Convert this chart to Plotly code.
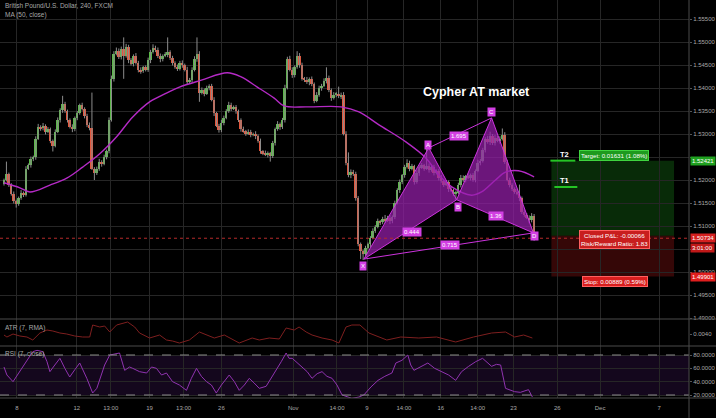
import numpy as np
import plotly.graph_objects as go

# ---------------- data ----------------
first_open = 1.5192
closes = [
    1.5200, 1.5212, 1.5190, 1.5170, 1.5155, 1.5148, 1.5160, 1.5172, 1.5168, 1.5225,
    1.5232, 1.5245, 1.5250, 1.5290, 1.5315, 1.5312, 1.5318, 1.5305, 1.5310, 1.5285,
    1.5275, 1.5305, 1.5330, 1.5352, 1.5365, 1.5350, 1.5330, 1.5315, 1.5310, 1.5335,
    1.5345, 1.5362, 1.5355, 1.5340, 1.5320, 1.5312, 1.5225, 1.5215, 1.5225, 1.5240,
    1.5235, 1.5250, 1.5262, 1.5330, 1.5420, 1.5475, 1.5480, 1.5468, 1.5485, 1.5470,
    1.5490, 1.5460, 1.5452, 1.5470, 1.5455, 1.5440, 1.5436, 1.5445, 1.5440, 1.5460,
    1.5478, 1.5488, 1.5482, 1.5470, 1.5462, 1.5470, 1.5472, 1.5478, 1.5465, 1.5455,
    1.5445, 1.5442, 1.5455, 1.5450, 1.5440, 1.5412, 1.5418, 1.5440, 1.5462, 1.5475,
    1.5390, 1.5395, 1.5388, 1.5400, 1.5405, 1.5375, 1.5345, 1.5318, 1.5308, 1.5325,
    1.5335, 1.5350, 1.5362, 1.5355, 1.5358, 1.5350, 1.5330, 1.5310, 1.5306, 1.5302,
    1.5305, 1.5298, 1.5300, 1.5295, 1.5285, 1.5262, 1.5258, 1.5255, 1.5258, 1.5252,
    1.5280, 1.5310, 1.5322, 1.5315, 1.5330, 1.5400, 1.5462, 1.5440, 1.5428, 1.5445,
    1.5470, 1.5450, 1.5420, 1.5418, 1.5412, 1.5420, 1.5408, 1.5372, 1.5385, 1.5400,
    1.5405, 1.5415, 1.5422, 1.5395, 1.5378, 1.5385, 1.5388, 1.5382, 1.5385, 1.5300,
    1.5237, 1.5210, 1.5218, 1.5212, 1.5160, 1.5060, 1.5045, 1.5040, 1.5052, 1.5060,
    1.5075, 1.5090, 1.5098, 1.5110, 1.5108, 1.5115, 1.5112, 1.5118, 1.5110, 1.5120,
    1.5150, 1.5178, 1.5195, 1.5210, 1.5228, 1.5238, 1.5225, 1.5230, 1.5195, 1.5215,
    1.5228, 1.5232, 1.5225, 1.5230, 1.5222, 1.5228, 1.5215, 1.5220, 1.5205, 1.5198,
    1.5190, 1.5195, 1.5180, 1.5178, 1.5170, 1.5172, 1.5190, 1.5205, 1.5200, 1.5208,
    1.5205, 1.5210, 1.5200, 1.5220, 1.5238, 1.5242, 1.5265, 1.5290, 1.5282, 1.5295,
    1.5280, 1.5292, 1.5285, 1.5290, 1.5298, 1.5240, 1.5200, 1.5190, 1.5180, 1.5175,
    1.5170, 1.5160, 1.5130, 1.5125, 1.5118, 1.5112, 1.5122, 1.5074,
]
# upper / lower shadow length beyond the body, in pips
wick_up_pips = [
    3, 28, 4, 3, 5, 2, 4, 6, 3, 5,
    4, 6, 3, 5, 7, 4, 6, 3, 5, 4,
    3, 5, 6, 4, 18, 5, 3, 4, 6, 3,
    5, 4, 6, 3, 4, 5, 78, 3, 4, 6,
    3, 5, 4, 6, 7, 5, 8, 6, 5, 25,
    6, 4, 5, 3, 6, 4, 5, 3, 4, 6,
    5, 7, 4, 6, 5, 3, 6, 32, 4, 5,
    3, 6, 4, 5, 3, 6, 4, 5, 7, 35,
    5, 6, 4, 5, 3, 4, 5, 3, 4, 6,
    5, 4, 8, 6, 4, 5, 3, 4, 6, 3,
    5, 4, 3, 6, 4, 5, 3, 6, 4, 3,
    5, 4, 6, 3, 5, 7, 6, 8, 5, 4,
    10, 6, 5, 4, 6, 3, 5, 4, 6, 5,
    4, 6, 23, 5, 4, 6, 3, 15, 5, 6,
    6, 23, 5, 4, 6, 5, 4, 3, 5, 4,
    3, 5, 4, 6, 3, 5, 9, 4, 6, 3,
    5, 4, 6, 3, 5, 7, 4, 5, 3, 6,
    4, 5, 3, 38, 6, 4, 5, 3, 4, 6,
    3, 5, 4, 6, 3, 5, 4, 6, 5, 3,
    6, 4, 5, 3, 6, 4, 5, 3, 6, 10,
    5, 6, 4, 5, 14, 6, 4, 5, 3, 4,
    5, 20, 4, 6, 3, 5, 6, 4,
]
wick_dn_pips = [
    4, 3, 5, 4, 6, 8, 4, 3, 5, 4,
    3, 5, 4, 6, 3, 5, 4, 6, 3, 5,
    13, 4, 3, 5, 6, 4, 5, 3, 6, 4,
    5, 3, 4, 6, 5, 4, 3, 15, 4, 5,
    6, 3, 5, 4, 3, 6, 4, 5, 6, 50,
    4, 6, 3, 5, 4, 6, 5, 3, 4, 5,
    6, 3, 4, 5, 6, 4, 3, 5, 4, 6,
    3, 5, 4, 6, 4, 5, 3, 6, 4, 5,
    20, 4, 6, 3, 5, 4, 6, 3, 5, 4,
    6, 3, 4, 5, 3, 6, 4, 5, 3, 6,
    4, 5, 3, 6, 4, 5, 4, 3, 6, 12,
    4, 5, 3, 6, 4, 5, 3, 4, 6, 5,
    3, 6, 4, 5, 3, 6, 4, 5, 3, 4,
    6, 3, 5, 4, 6, 3, 5, 4, 6, 3,
    5, 4, 6, 3, 5, 4, 17, 14, 5, 3,
    6, 4, 5, 3, 6, 4, 5, 3, 6, 4,
    5, 3, 6, 4, 5, 3, 6, 4, 5, 3,
    6, 4, 5, 3, 6, 4, 5, 3, 6, 4,
    5, 3, 6, 4, 5, 14, 3, 6, 4, 5,
    3, 6, 4, 5, 3, 6, 4, 5, 3, 6,
    4, 5, 3, 6, 4, 5, 3, 6, 4, 5,
    3, 6, 4, 5, 3, 6, 4, 6,
]

# MA(50, close) (bar index, price)
ma_bars = [0, 6.5, 10.6, 18.8, 25.7, 32.2, 39.2, 46.1, 52.7, 59.6, 66.5, 71.8,
           80.8, 91.4, 97.1, 103.7, 110.6, 114.7, 124.1, 138.0, 145.3, 153.5,
           164.5, 172.7, 178.0, 183.3, 191.4, 195.5, 201.2, 205.3, 210.6, 217]
ma_vals = [1.5194, 1.5183, 1.5174, 1.5189, 1.5204, 1.5228, 1.5257, 1.5294, 1.5337,
           1.5370, 1.5389, 1.5402, 1.5417, 1.5433, 1.5424, 1.5402, 1.5378, 1.5361,
           1.5359, 1.5359, 1.5348, 1.5320, 1.5283, 1.5248, 1.5211, 1.5185, 1.5167,
           1.5174, 1.5200, 1.5217, 1.5220, 1.5207]

# ATR(7, RMA)
atr_bars = [0, 1.2, 3.7, 6.5, 9.4, 11.8, 14.7, 17.6, 20.0, 22.9, 25.7, 29.0, 32.2,
            35.1, 36.3, 39.2, 41.2, 43.3, 46.1, 50.6, 53.5, 55.5, 59.6, 63.7, 66.5,
            69.0, 71.8, 75.9, 80.0, 84.1, 86.1, 90.2, 96.3, 101.6, 104.5, 108.6,
            112.7, 115.5, 118.8, 120.8, 123.7, 126.1, 130.2, 134.3, 137.1, 140.0,
            142.4, 145.7, 149.4, 156.7, 162.4, 169.8, 177.1, 184.9, 192.2, 199.6,
            205.3, 209.0, 212.7, 216.3]
atr_vals = [0.0039, 0.0037, 0.0040, 0.0038, 0.0037, 0.0034, 0.0041, 0.0044, 0.0043,
            0.0041, 0.0040, 0.0038, 0.0037, 0.0037, 0.0049, 0.0047, 0.0048, 0.0042,
            0.0049, 0.0052, 0.0047, 0.0041, 0.0036, 0.0039, 0.0034, 0.0033, 0.0031,
            0.0034, 0.0042, 0.0038, 0.0036, 0.0039, 0.0031, 0.0036, 0.0034, 0.0036,
            0.0035, 0.0046, 0.0044, 0.0047, 0.0042, 0.0039, 0.0036, 0.0034, 0.0031,
            0.0047, 0.0049, 0.0049, 0.0041, 0.0034, 0.0037, 0.0036, 0.0037, 0.0032,
            0.0037, 0.0041, 0.0042, 0.0037, 0.0039, 0.0036]

# RSI(7, close)
rsi_bars = [0, 1.2, 3.7, 6.5, 9.4, 11.8, 13.5, 15.9, 17.6, 18.8, 20.8, 22.9, 24.9,
            26.9, 29.0, 31.0, 33.9, 36.3, 38.0, 39.2, 41.2, 43.3, 45.3, 47.3, 49.4,
            51.4, 52.7, 55.5, 58.4, 60.4, 62.4, 64.5, 66.5, 69.0, 71.8, 74.7, 76.7,
            78.8, 80.8, 82.9, 84.9, 86.9, 89.0, 92.2, 94.3, 96.3, 98.4, 100.4, 102.4,
            104.5, 107.3, 109.4, 111.4, 113.5, 115.5, 116.7, 118.0, 120.0, 122.0,
            124.1, 126.1, 128.2, 130.2, 132.2, 134.3, 136.3, 138.4, 140.4, 142.4,
            145.3, 147.3, 150.2, 153.1, 155.9, 158.8, 160.4, 162.9, 165.3, 166.5,
            167.8, 170.6, 173.5, 176.3, 179.2, 182.0, 184.9, 187.3, 190.2, 193.1,
            195.9, 198.0, 199.6, 201.6, 203.3, 205.3, 207.3, 209.0, 211.4, 213.5,
            214.7, 216.3]
rsi_vals = [62, 50, 40, 55, 72, 85, 87, 85, 70, 55, 65, 75, 60, 47, 58, 68, 45, 23,
            30, 42, 65, 80, 82, 83, 57, 62, 60, 55, 53, 62, 60, 50, 53, 40, 35, 27,
            45, 60, 48, 40, 35, 23, 35, 50, 40, 27, 35, 45, 38, 30, 33, 45, 57, 70,
            83, 75, 75, 68, 62, 55, 45, 52, 55, 48, 45, 35, 20, 17, 15, 17, 20, 32,
            42, 48, 53, 68, 72, 80, 65, 57, 62, 68, 60, 55, 50, 42, 55, 63, 70, 75,
            68, 63, 66, 65, 30, 27, 25, 24, 26, 28, 17]

# time axis labels
x_tick_bars = [5.3, 29.8, 43.7, 59.6, 73.5, 89.0, 118.4, 136.3, 148.6, 163.7,
               178.8, 193.9, 208.6, 226.5, 244.0, 268.2]
x_tick_labels = ["8", "12", "13:00", "19", "13:00", "26", "Nov", "14:00", "9",
                 "14:00", "16", "14:00", "23", "26", "Dec", "7"]
price_ticks = [1.490, 1.495, 1.500, 1.505, 1.510, 1.515, 1.520, 1.525, 1.530,
               1.535, 1.540, 1.545, 1.550, 1.555]
hidden_price_ticks = [1.505, 1.525]  # covered by the marker boxes on the scale

# Cypher pattern points
pattern_names = ["X", "A", "B", "C", "D"]
pattern_bars = [147.3, 173.9, 185.3, 199.6, 216.7]
pattern_prices = [1.5028, 1.5270, 1.5157, 1.5335, 1.5085]
ratio_texts = ["1.695", "0.444", "1.36", "0.715"]

# long position tool
entry_price = 1.5079
target_price = 1.52421
stop_price = 1.49901
t1_price = 1.51848
last_price = 1.50734

# ---------------- derived candle series ----------------
n = len(closes)
bars = np.arange(n)
c = np.array(closes)
o = np.concatenate([[first_open], c[:-1]])
h = np.maximum(o, c) + np.array(wick_up_pips) * 0.0001
l = np.minimum(o, c) - np.array(wick_dn_pips) * 0.0001

# ---------------- figure ----------------
W, H = 716, 418
PLOT_W, PLOT_H = 691, 398
FONT = "Liberation Sans, Arial, sans-serif"
UP, DOWN, WICK = "#5cb84a", "#e2573d", "#8c8c8c"
MAG = "#cc33dd"
GRID = "#262626"
TXT = "#a8a8a8"


def py(pix):
    return 1 - pix / PLOT_H


def px(pix):
    return pix / PLOT_W


fig = go.Figure()

# wicks
wx, wy = [], []
for i in range(n):
    wx += [bars[i], bars[i], None]
    wy += [l[i], h[i], None]
fig.add_trace(go.Scatter(x=wx, y=wy, mode="lines", line=dict(color=WICK, width=1),
                         hoverinfo="skip", xaxis="x", yaxis="y"))
# bodies
body_base = np.minimum(o, c)
body_h = np.maximum(np.abs(c - o), 0.00012)
colors = [UP if c[i] >= o[i] else DOWN for i in range(n)]
fig.add_trace(go.Bar(x=bars, y=body_h, base=body_base, width=0.8,
                     marker=dict(color=colors, line=dict(width=0)),
                     xaxis="x", yaxis="y"))
# MA
fig.add_trace(go.Scatter(x=ma_bars, y=ma_vals, mode="lines",
                         line=dict(color="#b52ac6", width=1.4, shape="spline"),
                         xaxis="x", yaxis="y"))

# Cypher pattern
pb, pp = pattern_bars, pattern_prices
FILL = "rgba(150,30,170,0.72)"
fig.add_trace(go.Scatter(x=[pb[0], pb[1], pb[2], pb[0]], y=[pp[0], pp[1], pp[2], pp[0]],
                         mode="lines", fill="toself", fillcolor=FILL,
                         line=dict(color=MAG, width=1), xaxis="x", yaxis="y"))
fig.add_trace(go.Scatter(x=[pb[2], pb[3], pb[4], pb[2]], y=[pp[2], pp[3], pp[4], pp[2]],
                         mode="lines", fill="toself", fillcolor=FILL,
                         line=dict(color=MAG, width=1), xaxis="x", yaxis="y"))
fig.add_trace(go.Scatter(x=[pb[1], pb[3]], y=[pp[1], pp[3]], mode="lines",
                         line=dict(color=MAG, width=1), xaxis="x", yaxis="y"))
fig.add_trace(go.Scatter(x=[pb[0], pb[4]], y=[pp[0], pp[4]], mode="lines",
                         line=dict(color=MAG, width=1), xaxis="x", yaxis="y"))

# ATR
fig.add_trace(go.Scatter(x=atr_bars, y=atr_vals, mode="lines",
                         line=dict(color="#7e1f1f", width=1), xaxis="x", yaxis="y2"))
# RSI
fig.add_trace(go.Scatter(x=rsi_bars, y=rsi_vals, mode="lines",
                         line=dict(color="#9033b0", width=1), xaxis="x", yaxis="y3"))

x_lo = -4 / 2.45
x_hi = (PLOT_W - 4) / 2.45
y_lo = 1.555 - 300 / 4600
y_hi = 1.555 + 19 / 4600

tickfont = dict(family=FONT, size=6, color=TXT)
fig.update_layout(
    width=W, height=H,
    margin=dict(l=0, r=W - PLOT_W, t=0, b=H - PLOT_H),
    paper_bgcolor="#000000", plot_bgcolor="#000000",
    showlegend=False, bargap=0,
    xaxis=dict(domain=[0, 1], range=[x_lo, x_hi], anchor="y3",
               tickvals=x_tick_bars, ticktext=x_tick_labels, tickfont=tickfont,
               showgrid=True, gridcolor=GRID, gridwidth=1, zeroline=False,
               showline=False, ticks="", ticklabelstandoff=5),
    yaxis=dict(domain=[py(319), 1], range=[y_lo, y_hi], side="right", anchor="x",
               tickvals=price_ticks,
               ticktext=["" if v in hidden_price_ticks else f"{v:.5f}" for v in price_ticks],
               tickfont=tickfont, showgrid=True, gridcolor=GRID, zeroline=False,
               ticks="outside", ticklen=2, tickcolor="#555555"),
    yaxis2=dict(domain=[py(346), py(319)], range=[0.0028, 0.0055],
                side="right", anchor="x", tickvals=[0.004], ticktext=["0.0040"],
                tickfont=tickfont, showgrid=False, zeroline=False,
                ticks="outside", ticklen=2, tickcolor="#555555"),
    yaxis3=dict(domain=[0, py(346)], range=[15.5, 93.5], side="right", anchor="x",
                tickvals=[20, 40, 60, 80],
                ticktext=["20.0000", "40.0000", "60.0000", "80.0000"],
                tickfont=tickfont, showgrid=True, gridcolor=GRID, zeroline=False,
                ticks="outside", ticklen=2, tickcolor="#555555"),
)

shapes = []
# RSI band
shapes.append(dict(type="rect", xref="paper", yref="y3", x0=0, x1=1, y0=20, y1=80,
                   fillcolor="rgba(120,40,170,0.17)", line=dict(width=0), layer="below"))
for lvl in (20, 80):
    shapes.append(dict(type="line", xref="paper", yref="y3", x0=0, x1=1, y0=lvl, y1=lvl,
                       line=dict(color="#8a8a8a", width=1, dash="dash")))
# panel separators
for pix in (319, 346, 398):
    shapes.append(dict(type="line", xref="paper", yref="paper", x0=0, x1=1.05,
                       y0=py(pix), y1=py(pix), line=dict(color="#4a4a4a", width=1)))
shapes.append(dict(type="line", xref="paper", yref="paper", x0=1, x1=1, y0=-0.05, y1=1,
                   line=dict(color="#4a4a4a", width=1)))
# position tool zones
zx0, zx1 = (553 - 4) / 2.45, (676 - 4) / 2.45
shapes.append(dict(type="rect", xref="x", yref="y", x0=zx0, x1=zx1, y0=entry_price,
                   y1=target_price, fillcolor="rgba(25,130,25,0.33)", line=dict(width=0),
                   layer="below"))
shapes.append(dict(type="rect", xref="x", yref="y", x0=zx0, x1=zx1, y0=stop_price,
                   y1=entry_price, fillcolor="rgba(160,20,20,0.33)", line=dict(width=0),
                   layer="below"))
# last price dotted line
shapes.append(dict(type="line", xref="paper", yref="y", x0=0, x1=1, y0=last_price,
                   y1=last_price, line=dict(color="#b52a2a", width=1, dash="dot")))
# T1 / T2 lines
shapes.append(dict(type="line", xref="x", yref="y", x0=(552 - 4) / 2.45, x1=(577 - 4) / 2.45,
                   y0=target_price, y1=target_price, line=dict(color="#25c425", width=2)))
shapes.append(dict(type="line", xref="x", yref="y", x0=(556 - 4) / 2.45, x1=(579 - 4) / 2.45,
                   y0=t1_price, y1=t1_price, line=dict(color="#25c425", width=2)))
fig.update_layout(shapes=shapes)

ann = []


def note(text, x, y, xref="paper", yref="paper", size=6.5, color=TXT, bg=None,
         xanchor="left", yanchor="middle", bold=False, border=None, pad=1, **kw):
    d = dict(text=f"<b>{text}</b>" if bold else text, x=x, y=y, xref=xref, yref=yref,
             showarrow=False, xanchor=xanchor, yanchor=yanchor,
             font=dict(family=FONT, size=size, color=color), borderpad=pad)
    if bg:
        d["bgcolor"] = bg
    if border:
        d["bordercolor"] = border
        d["borderwidth"] = 1
    d.update(kw)
    ann.append(d)


# legends
note("British Pound/U.S. Dollar, 240, FXCM", px(3), py(6))
note("MA (50, close)", px(3), py(15))
note("ATR (7, RMA)", px(3), py(328))
note("RSI (7, close)", px(3), py(354))

# pattern title
note("Cypher AT market", 193.5, 1.5391, xref="x", yref="y", size=12.5, color="#ffffff",
     xanchor="center", bold=True)

# point labels
lbl_pos = [(146.9, 1.5013), (173.5, 1.5276), (185.7, 1.5141), (199.6, 1.5348), (217.1, 1.5078)]
for name, (bx, pyv) in zip(pattern_names, lbl_pos):
    note(name, bx, pyv, xref="x", yref="y", size=6, color="#ffffff", bg="#d23fe3",
         xanchor="center", pad=1)
ratio_pos = [(186.1, 1.5296), (166.9, 1.5087), (201.2, 1.5122), (182.4, 1.5059)]
for t, (bx, pyv) in zip(ratio_texts, ratio_pos):
    note(t, bx, pyv, xref="x", yref="y", size=6, color="#ffffff", bg="#d23fe3",
         xanchor="center", pad=1)

# position tool labels
note("Target: 0.01631 (1.08%)", (616 - 4) / 2.45, 1.52543, xref="x", yref="y", size=6.2,
     color="#ffffff", bg="#1e9a1e", border="#3fd43f", xanchor="center")
note("Closed P&L: -0.00066<br>Risk/Reward Ratio: 1.83", (616 - 4) / 2.45, 1.50707,
     xref="x", yref="y", size=6.2, color="#ffffff", bg="#c81e1e", border="#ff6060",
     xanchor="center")
note("Stop: 0.00889 (0.59%)", (617 - 4) / 2.45, 1.49783, xref="x", yref="y", size=6.2,
     color="#ffffff", bg="#d81e1e", border="#ff6060", xanchor="center")
note("T2", (566 - 4) / 2.45, 1.5255, xref="x", yref="y", size=7.5, color="#ffffff",
     xanchor="center", bold=True)
note("T1", (566 - 4) / 2.45, 1.5198, xref="x", yref="y", size=7.5, color="#ffffff",
     xanchor="center", bold=True)

# price-axis markers
note(f"{target_price:.5f}", 1.0, target_price, yref="y", size=6, color="#ffffff",
     bg="#1fa01f", xshift=1)
note(f"{last_price:.5f}", 1.0, last_price, yref="y", size=6, color="#ffffff",
     bg="#d42020", xshift=1)
note("3:01:00", 1.0, 1.50516, yref="y", size=6, color="#ffffff", bg="#c01818", xshift=1)
note(f"{stop_price:.5f}", 1.0, stop_price, yref="y", size=6, color="#ffffff",
     bg="#e01e1e", xshift=1)

fig.update_layout(annotations=ann)
fig.write_html("out.html")
